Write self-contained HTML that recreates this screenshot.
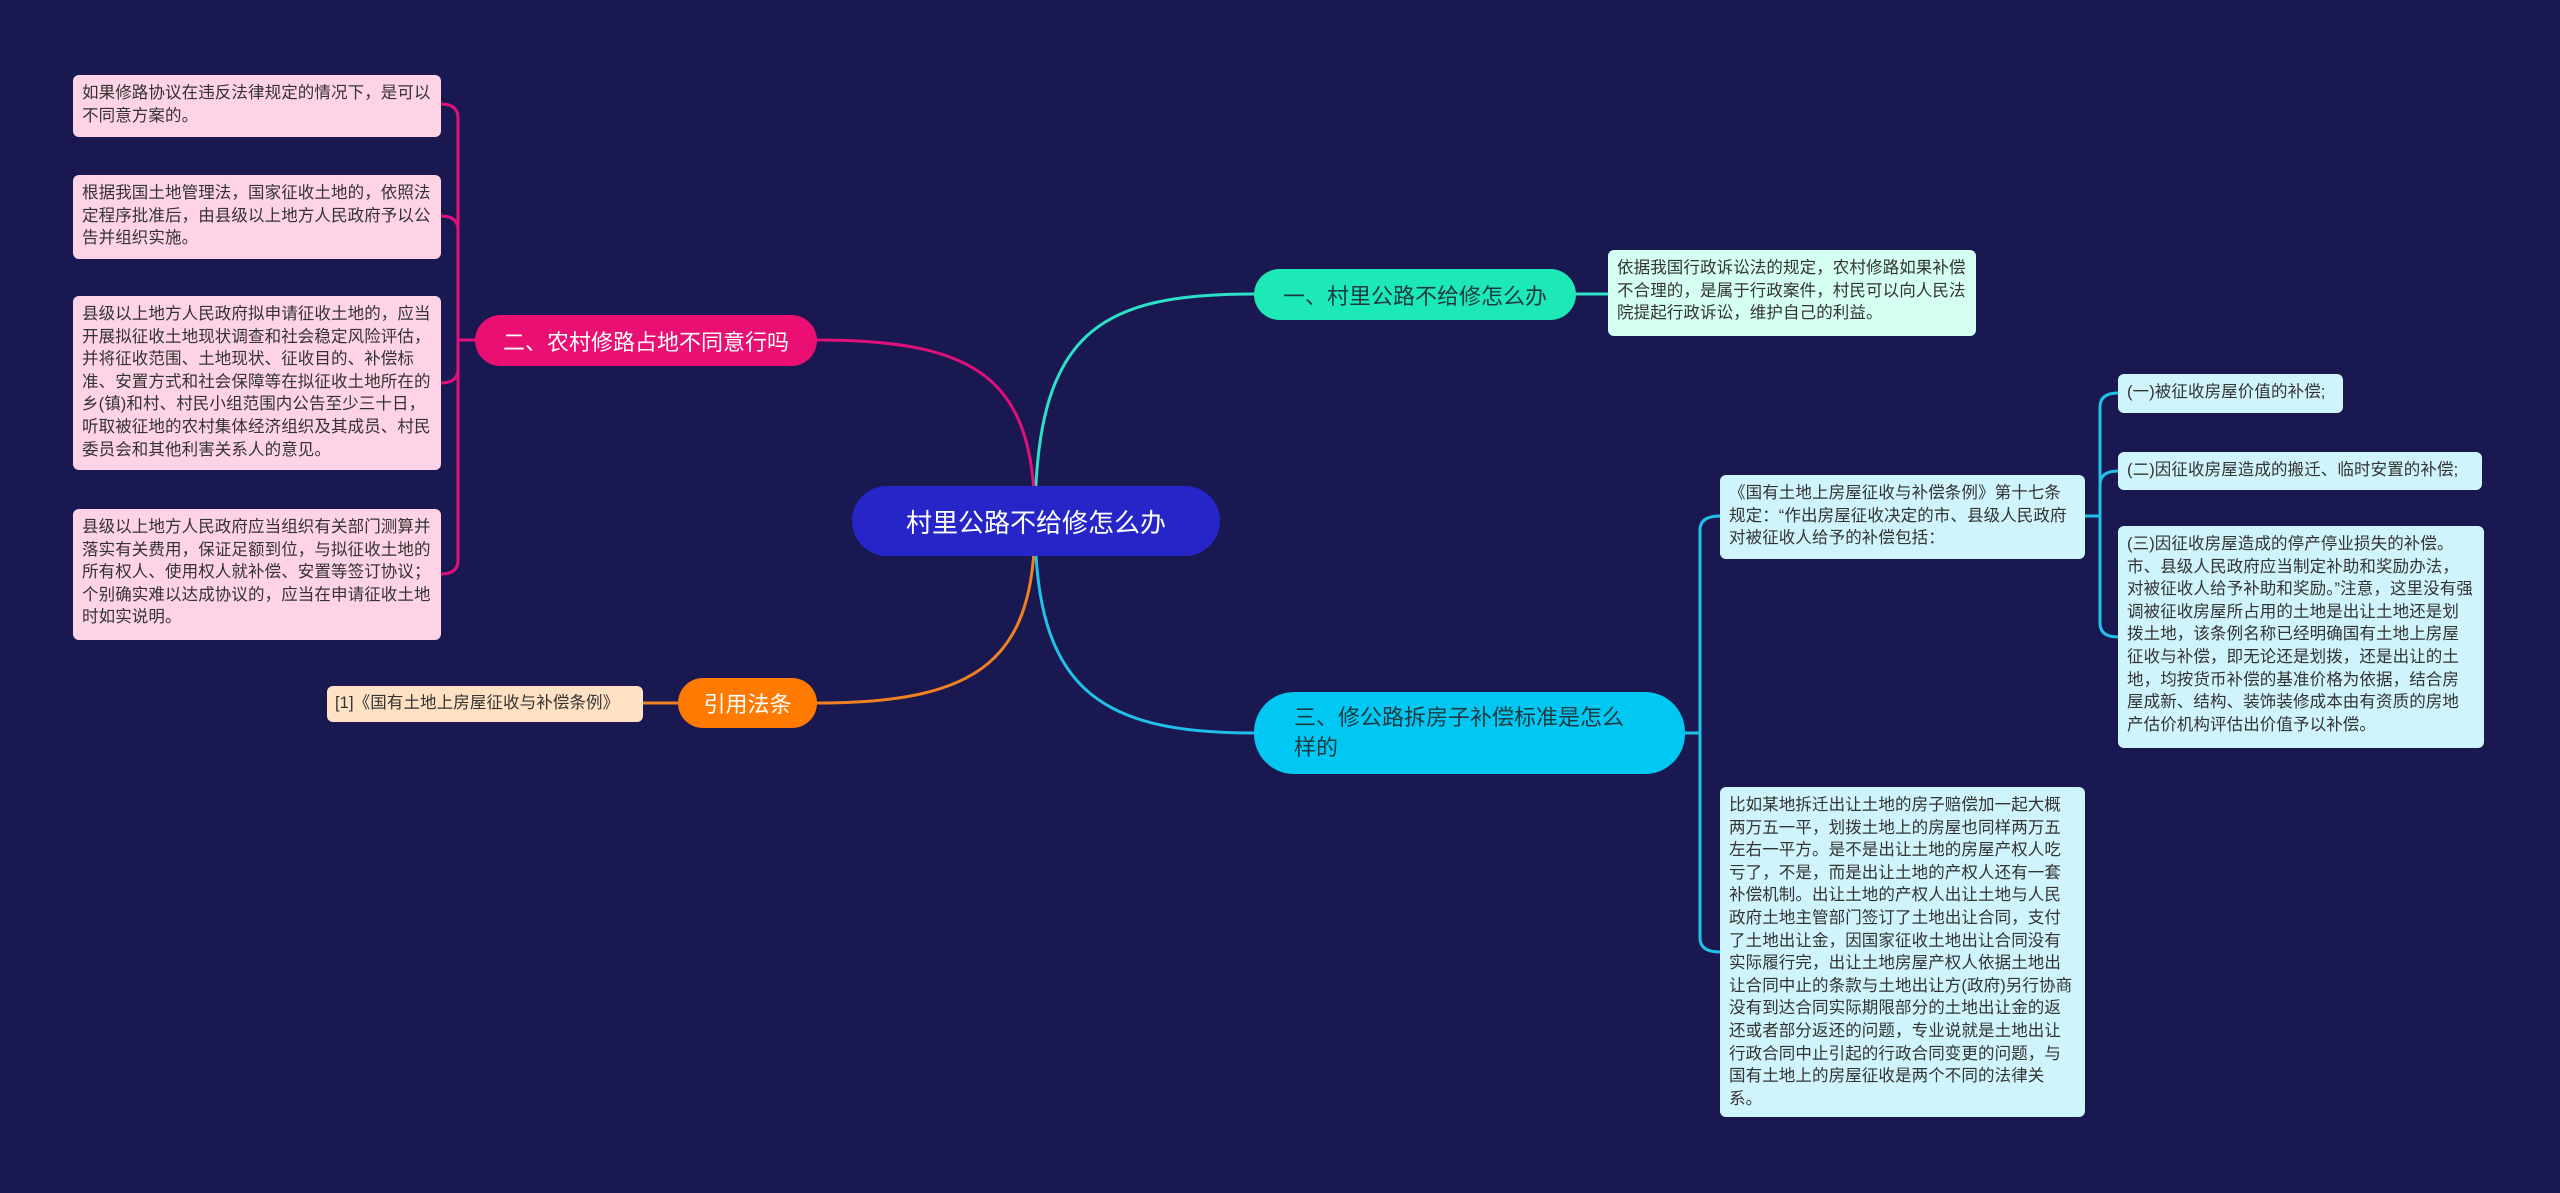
<!DOCTYPE html>
<html><head><meta charset="utf-8"><style>
body{margin:0;width:2560px;height:1193px;background:#1a1850;position:relative;overflow:hidden;font-family:"Liberation Sans","Noto Sans CJK SC",sans-serif}
.n{position:absolute;box-sizing:border-box}
.leaf{font-size:16.5px;line-height:22.6px;color:#333;padding:7px 9px;border-radius:6px;letter-spacing:0.1px}
.pk{background:#ffd3e6}
.cy{background:#d0f4fc}
.mt{background:#d4fff2}
.br{border-radius:30px;display:flex;align-items:center;font-size:22px}
svg{position:absolute;left:0;top:0}
</style></head><body>
<svg width="2560" height="1193" fill="none" stroke-width="3">
<path d="M1035 522 C1035 330,1100 294,1254 294" stroke="#2de0c8"/>
<path d="M1035 522 C1035 380,980 340,817 340" stroke="#e0107a"/>
<path d="M1035 522 C1035 660,980 703,817 703" stroke="#f08020"/>
<path d="M1035 522 C1035 690,1100 733,1254 733" stroke="#20c0e8"/>
<path d="M1576 294 L1608 294" stroke="#2de0c8"/>
<path d="M1685 733 L1700 733 M1700 733 L1700 530 Q1700 516 1720 516 M1700 733 L1700 938 Q1700 952 1720 952" stroke="#20c0e8"/>
<path d="M2085 516 L2100 516 M2100 516 L2100 407 Q2100 393 2118 393 M2100 516 L2100 485 Q2100 471 2118 471 M2100 516 L2100 623 Q2100 637 2118 637" stroke="#20c0e8"/>
<path d="M475 340 L458 340 M458 340 L458 118 Q458 104 441 104 M458 340 L458 230 Q458 216 441 216 M458 340 L458 369 Q458 383 441 383 M458 340 L458 560 Q458 574 441 574" stroke="#e0107a"/>
<path d="M678 703 L643 703" stroke="#f08020"/>
</svg>
<div class="n br" style="left:852px;top:486px;width:368px;height:70px;background:#2626c8;color:#fff;font-size:26px;justify-content:center;border-radius:35px">村里公路不给修怎么办</div>
<div class="n br" style="left:1254px;top:269px;width:322px;height:51px;background:#1de9b6;color:#1a3a40;justify-content:center">一、村里公路不给修怎么办</div>
<div class="n br" style="left:475px;top:315px;width:342px;height:51px;background:#ea0f72;color:#fff;justify-content:center">二、农村修路占地不同意行吗</div>
<div class="n br" style="left:678px;top:678px;width:139px;height:50px;background:#ff7a00;color:#fff;justify-content:center">引用法条</div>
<div class="n br" style="left:1254px;top:692px;width:431px;height:82px;background:#00c8f2;color:#1a3a40;padding:0 40px;line-height:30px;border-radius:40px">三、修公路拆房子补偿标准是怎么样的</div>
<div class="n leaf mt" style="left:1608px;top:250px;width:368px;height:86px">依据我国行政诉讼法的规定，农村修路如果补偿不合理的，是属于行政案件，村民可以向人民法院提起行政诉讼，维护自己的利益。</div>
<div class="n leaf pk" style="left:73px;top:75px;width:368px;height:62px">如果修路协议在违反法律规定的情况下，是可以不同意方案的。</div>
<div class="n leaf pk" style="left:73px;top:175px;width:368px;height:84px">根据我国土地管理法，国家征收土地的，依照法定程序批准后，由县级以上地方人民政府予以公告并组织实施。</div>
<div class="n leaf pk" style="left:73px;top:296px;width:368px;height:174px">县级以上地方人民政府拟申请征收土地的，应当开展拟征收土地现状调查和社会稳定风险评估，并将征收范围、土地现状、征收目的、补偿标准、安置方式和社会保障等在拟征收土地所在的乡(镇)和村、村民小组范围内公告至少三十日，听取被征地的农村集体经济组织及其成员、村民委员会和其他利害关系人的意见。</div>
<div class="n leaf pk" style="left:73px;top:509px;width:368px;height:131px">县级以上地方人民政府应当组织有关部门测算并落实有关费用，保证足额到位，与拟征收土地的所有权人、使用权人就补偿、安置等签订协议；个别确实难以达成协议的，应当在申请征收土地时如实说明。</div>
<div class="n leaf" style="left:327px;top:686px;width:316px;height:36px;background:#ffe2c4;padding:6px 8px">[1]《国有土地上房屋征收与补偿条例》</div>
<div class="n leaf cy" style="left:1720px;top:475px;width:365px;height:84px">《国有土地上房屋征收与补偿条例》第十七条规定：“作出房屋征收决定的市、县级人民政府对被征收人给予的补偿包括：</div>
<div class="n leaf cy" style="left:1720px;top:787px;width:365px;height:330px">比如某地拆迁出让土地的房子赔偿加一起大概两万五一平，划拨土地上的房屋也同样两万五左右一平方。是不是出让土地的房屋产权人吃亏了，不是，而是出让土地的产权人还有一套补偿机制。出让土地的产权人出让土地与人民政府土地主管部门签订了土地出让合同，支付了土地出让金，因国家征收土地出让合同没有实际履行完，出让土地房屋产权人依据土地出让合同中止的条款与土地出让方(政府)另行协商没有到达合同实际期限部分的土地出让金的返还或者部分返还的问题，专业说就是土地出让行政合同中止引起的行政合同变更的问题，与国有土地上的房屋征收是两个不同的法律关系。</div>
<div class="n leaf cy" style="left:2118px;top:374px;width:225px;height:39px">(一)被征收房屋价值的补偿;</div>
<div class="n leaf cy" style="left:2118px;top:452px;width:364px;height:38px">(二)因征收房屋造成的搬迁、临时安置的补偿;</div>
<div class="n leaf cy" style="left:2118px;top:526px;width:366px;height:222px">(三)因征收房屋造成的停产停业损失的补偿。市、县级人民政府应当制定补助和奖励办法，对被征收人给予补助和奖励。”注意，这里没有强调被征收房屋所占用的土地是出让土地还是划拨土地，该条例名称已经明确国有土地上房屋征收与补偿，即无论还是划拨，还是出让的土地，均按货币补偿的基准价格为依据，结合房屋成新、结构、装饰装修成本由有资质的房地产估价机构评估出价值予以补偿。</div>
</body></html>
